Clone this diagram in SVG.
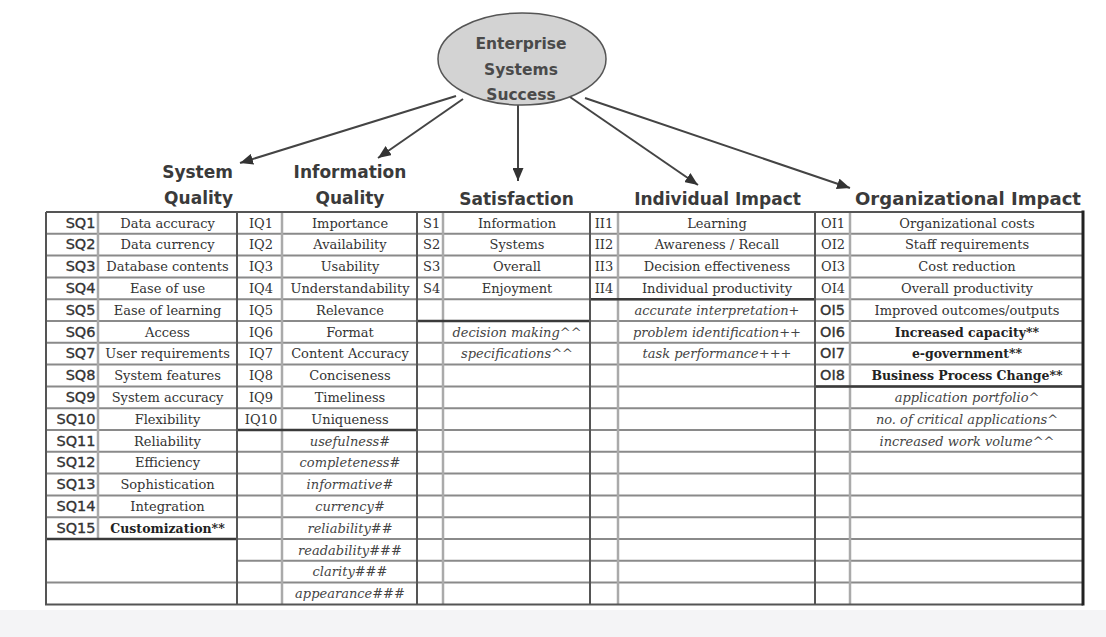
<svg xmlns="http://www.w3.org/2000/svg" width="1106" height="637" viewBox="0 0 1106 637">
<style>
.d{font-family:"DejaVu Serif","Liberation Serif",serif;font-size:13px;fill:#333;text-anchor:middle}
.i{font-style:italic;fill:#444}
.b{font-weight:bold;font-size:12.5px;fill:#222}
.cs{font-family:"DejaVu Sans","Liberation Sans",sans-serif;font-size:14.5px;fill:#333;stroke:#333;stroke-width:0.35}
.cr{font-family:"DejaVu Serif","Liberation Serif",serif;font-size:13px;fill:#333}
.t{font-family:"DejaVu Sans","Liberation Sans",sans-serif;font-weight:bold;font-size:17px;fill:#3a3a3a}
.et{font-family:"DejaVu Sans","Liberation Sans",sans-serif;font-weight:bold;font-size:15.5px;fill:#4a4a4a;text-anchor:middle}
.rl{stroke:#8a8a8a;stroke-width:2}
.thk{stroke:#3a3a3a;stroke-width:2.5}
.gd{stroke:#555;stroke-width:2}
.cd{stroke:#aaa;stroke-width:2.5}
.cn{stroke:#444;stroke-width:2;fill:none;marker-end:url(#ah)}
</style>
<defs>
<marker id="ah" markerUnits="userSpaceOnUse" markerWidth="14" markerHeight="11" refX="13" refY="5.5" orient="auto">
<path d="M0,0 L13,5.5 L0,11 z" fill="#333"/>
</marker>
</defs>
<rect x="0" y="0" width="1106" height="637" fill="#ffffff"/>
<rect x="0" y="610" width="1106" height="27" fill="#f4f4f6"/>

<g id="connectors">
<line class="cn" x1="456" y1="96" x2="240" y2="163"/>
<line class="cn" x1="463" y1="99" x2="378" y2="158"/>
<line class="cn" x1="518" y1="105" x2="518" y2="181"/>
<line class="cn" x1="570" y1="97" x2="698" y2="185"/>
<line class="cn" x1="585" y1="98" x2="850" y2="188"/>
</g>

<g id="ess">
<ellipse cx="522" cy="59" rx="84" ry="46" fill="#d3d3d3" stroke="#555" stroke-width="1.5"/>
<text class="et" x="521" y="48.5">Enterprise</text>
<text class="et" x="521" y="75">Systems</text>
<text class="et" x="521" y="99.5">Success</text>
</g>

<g id="titles">
<text class="t" x="233" y="178" text-anchor="end">System</text>
<text class="t" x="233" y="204" text-anchor="end">Quality</text>
<text class="t" x="350" y="178" text-anchor="middle">Information</text>
<text class="t" x="350" y="204" text-anchor="middle">Quality</text>
<text class="t" x="516.5" y="205" text-anchor="middle">Satisfaction</text>
<text class="t" x="717.5" y="205" text-anchor="middle">Individual Impact</text>
<text class="t" x="855" y="205" textLength="226" lengthAdjust="spacingAndGlyphs">Organizational Impact</text>
</g>

<g id="grid">
<g class="rl">
<line x1="46" y1="233.8" x2="1083" y2="233.8"/>
<line x1="46" y1="255.6" x2="1083" y2="255.6"/>
<line x1="46" y1="277.4" x2="1083" y2="277.4"/>
<line x1="46" y1="299.2" x2="1083" y2="299.2"/>
<line x1="46" y1="321" x2="1083" y2="321"/>
<line x1="46" y1="342.8" x2="1083" y2="342.8"/>
<line x1="46" y1="364.6" x2="1083" y2="364.6"/>
<line x1="46" y1="386.4" x2="1083" y2="386.4"/>
<line x1="46" y1="408.2" x2="1083" y2="408.2"/>
<line x1="46" y1="430" x2="1083" y2="430"/>
<line x1="46" y1="451.8" x2="1083" y2="451.8"/>
<line x1="46" y1="473.6" x2="1083" y2="473.6"/>
<line x1="46" y1="495.4" x2="1083" y2="495.4"/>
<line x1="46" y1="517.2" x2="1083" y2="517.2"/>
<line x1="46" y1="539" x2="1083" y2="539"/>
<line x1="237" y1="560.8" x2="1083" y2="560.8"/>
<line x1="46" y1="582.6" x2="1083" y2="582.6"/>
</g>
<g class="cd">
<line x1="98" y1="212" x2="98" y2="539"/>
<line x1="282" y1="212" x2="282" y2="604.4"/>
<line x1="443" y1="212" x2="443" y2="604.4"/>
<line x1="618" y1="212" x2="618" y2="604.4"/>
<line x1="850" y1="212" x2="850" y2="604.4"/>
</g>
<g class="thk">
<line x1="46" y1="539" x2="237" y2="539"/>
<line x1="237" y1="430" x2="417" y2="430"/>
<line x1="417" y1="321" x2="590" y2="321"/>
<line x1="590" y1="299.2" x2="815" y2="299.2"/>
<line x1="815" y1="386.4" x2="1083" y2="386.4"/>
</g>
<g class="gd">
<line x1="237" y1="212" x2="237" y2="604.4"/>
<line x1="417" y1="212" x2="417" y2="604.4"/>
<line x1="590" y1="212" x2="590" y2="604.4"/>
<line x1="815" y1="212" x2="815" y2="604.4"/>
</g>
<path d="M46,212 H1083 M46,212 V604.4 H1083" fill="none" stroke="#555" stroke-width="2"/>
<line x1="1083" y1="210.5" x2="1083" y2="605.5" stroke="#222" stroke-width="3"/>
</g>

<g id="system-quality">
<text class="cs" x="95.5" y="227.5" text-anchor="end">SQ1</text><text class="d" x="167.5" y="227.5">Data accuracy</text>
<text class="cs" x="95.5" y="249.3" text-anchor="end">SQ2</text><text class="d" x="167.5" y="249.3">Data currency</text>
<text class="cs" x="95.5" y="271.1" text-anchor="end">SQ3</text><text class="d" x="167.5" y="271.1">Database contents</text>
<text class="cs" x="95.5" y="292.9" text-anchor="end">SQ4</text><text class="d" x="167.5" y="292.9">Ease of use</text>
<text class="cs" x="95.5" y="314.7" text-anchor="end">SQ5</text><text class="d" x="167.5" y="314.7">Ease of learning</text>
<text class="cs" x="95.5" y="336.5" text-anchor="end">SQ6</text><text class="d" x="167.5" y="336.5">Access</text>
<text class="cs" x="95.5" y="358.3" text-anchor="end">SQ7</text><text class="d" x="167.5" y="358.3">User requirements</text>
<text class="cs" x="95.5" y="380.1" text-anchor="end">SQ8</text><text class="d" x="167.5" y="380.1">System features</text>
<text class="cs" x="95.5" y="401.9" text-anchor="end">SQ9</text><text class="d" x="167.5" y="401.9">System accuracy</text>
<text class="cs" x="95.5" y="423.7" text-anchor="end">SQ10</text><text class="d" x="167.5" y="423.7">Flexibility</text>
<text class="cs" x="95.5" y="445.5" text-anchor="end">SQ11</text><text class="d" x="167.5" y="445.5">Reliability</text>
<text class="cs" x="95.5" y="467.3" text-anchor="end">SQ12</text><text class="d" x="167.5" y="467.3">Efficiency</text>
<text class="cs" x="95.5" y="489.1" text-anchor="end">SQ13</text><text class="d" x="167.5" y="489.1">Sophistication</text>
<text class="cs" x="95.5" y="510.9" text-anchor="end">SQ14</text><text class="d" x="167.5" y="510.9">Integration</text>
<text class="cs" x="95.5" y="532.7" text-anchor="end">SQ15</text><text class="d b" x="167.5" y="532.7">Customization**</text>
</g>

<g id="information-quality">
<text class="cr" x="261" y="227.5" text-anchor="middle">IQ1</text><text class="d" x="350" y="227.5">Importance</text>
<text class="cr" x="261" y="249.3" text-anchor="middle">IQ2</text><text class="d" x="350" y="249.3">Availability</text>
<text class="cr" x="261" y="271.1" text-anchor="middle">IQ3</text><text class="d" x="350" y="271.1">Usability</text>
<text class="cr" x="261" y="292.9" text-anchor="middle">IQ4</text><text class="d" x="350" y="292.9">Understandability</text>
<text class="cr" x="261" y="314.7" text-anchor="middle">IQ5</text><text class="d" x="350" y="314.7">Relevance</text>
<text class="cr" x="261" y="336.5" text-anchor="middle">IQ6</text><text class="d" x="350" y="336.5">Format</text>
<text class="cr" x="261" y="358.3" text-anchor="middle">IQ7</text><text class="d" x="350" y="358.3">Content Accuracy</text>
<text class="cr" x="261" y="380.1" text-anchor="middle">IQ8</text><text class="d" x="350" y="380.1">Conciseness</text>
<text class="cr" x="261" y="401.9" text-anchor="middle">IQ9</text><text class="d" x="350" y="401.9">Timeliness</text>
<text class="cr" x="261" y="423.7" text-anchor="middle">IQ10</text><text class="d" x="350" y="423.7">Uniqueness</text>
<text class="d i" x="350" y="445.5">usefulness#</text>
<text class="d i" x="350" y="467.3">completeness#</text>
<text class="d i" x="350" y="489.1">informative#</text>
<text class="d i" x="350" y="510.9">currency#</text>
<text class="d i" x="350" y="532.7">reliability##</text>
<text class="d i" x="350" y="554.5">readability###</text>
<text class="d i" x="350" y="576.3">clarity###</text>
<text class="d i" x="350" y="598.1">appearance###</text>
</g>

<g id="satisfaction">
<text class="cr" x="423" y="227.5">S1</text><text class="d" x="517" y="227.5">Information</text>
<text class="cr" x="423" y="249.3">S2</text><text class="d" x="517" y="249.3">Systems</text>
<text class="cr" x="423" y="271.1">S3</text><text class="d" x="517" y="271.1">Overall</text>
<text class="cr" x="423" y="292.9">S4</text><text class="d" x="517" y="292.9">Enjoyment</text>
<text class="d i" x="517" y="336.5">decision making^^</text>
<text class="d i" x="517" y="358.3">specifications^^</text>
</g>

<g id="individual-impact">
<text class="cr" x="604" y="227.5" text-anchor="middle">II1</text><text class="d" x="717" y="227.5">Learning</text>
<text class="cr" x="604" y="249.3" text-anchor="middle">II2</text><text class="d" x="717" y="249.3">Awareness / Recall</text>
<text class="cr" x="604" y="271.1" text-anchor="middle">II3</text><text class="d" x="717" y="271.1">Decision effectiveness</text>
<text class="cr" x="604" y="292.9" text-anchor="middle">II4</text><text class="d" x="717" y="292.9">Individual productivity</text>
<text class="d i" x="717" y="314.7">accurate interpretation+</text>
<text class="d i" x="717" y="336.5">problem identification++</text>
<text class="d i" x="717" y="358.3">task performance+++</text>
</g>

<g id="organizational-impact">
<text class="cr" x="821" y="227.5">OI1</text><text class="d" x="967" y="227.5">Organizational costs</text>
<text class="cr" x="821" y="249.3">OI2</text><text class="d" x="967" y="249.3">Staff requirements</text>
<text class="cr" x="821" y="271.1">OI3</text><text class="d" x="967" y="271.1">Cost reduction</text>
<text class="cr" x="821" y="292.9">OI4</text><text class="d" x="967" y="292.9">Overall productivity</text>
<text class="cs" x="820" y="314.7">OI5</text><text class="d" x="967" y="314.7">Improved outcomes/outputs</text>
<text class="cs" x="820" y="336.5">OI6</text><text class="d b" x="967" y="336.5">Increased capacity**</text>
<text class="cs" x="820" y="358.3">OI7</text><text class="d b" x="967" y="358.3">e-government**</text>
<text class="cs" x="820" y="380.1">OI8</text><text class="d b" x="967" y="380.1">Business Process Change**</text>
<text class="d i" x="967" y="401.9">application portfolio^</text>
<text class="d i" x="967" y="423.7">no. of critical applications^</text>
<text class="d i" x="967" y="445.5">increased work volume^^</text>
</g>
</svg>
